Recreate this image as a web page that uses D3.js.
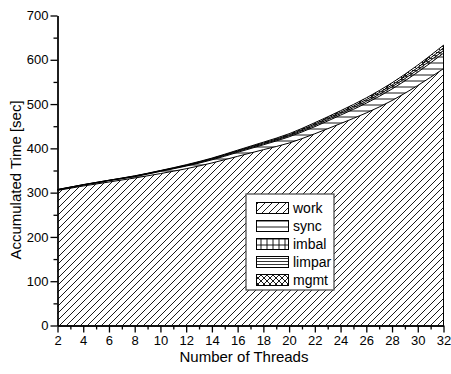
<!DOCTYPE html>
<html>
<head>
<meta charset="utf-8">
<script src="https://cdn.jsdelivr.net/npm/d3@7"></script>
<style>
  html, body { margin: 0; padding: 0; background: #fff; }
  svg { display: block; font-family: "Liberation Sans", Arial, sans-serif; }
</style>
</head>
<body>
<svg id="chart" width="451" height="374"></svg>
<script>
// Thread counts on the x axis
const threads = [2, 4, 6, 8, 10, 12, 14, 16, 18, 20, 22, 24, 26, 28, 30, 32];

// Accumulated time components [sec], stacked bottom to top
const work   = [305, 315, 324, 333, 343, 354, 367, 382, 397, 412, 433, 456, 480, 508, 542, 580];
const sync   = [1, 2, 3, 3, 5, 6, 7, 9, 11, 14, 16, 19, 22, 26, 30, 35];
const imbal  = [0.5, 0.5, 0.5, 1, 1, 1, 1.5, 2, 2, 2.5, 3, 3.5, 4, 5, 5.5, 6];
const limpar = [0.5, 0.5, 0.5, 0.5, 0.5, 1, 1.5, 1.5, 2, 2, 3, 3, 4, 4, 5, 6];
const mgmt   = [0, 0, 0, 0.5, 0.5, 1, 1, 1.5, 2, 2.5, 3, 3.5, 4, 5, 5.5, 6];

const seriesNames = ["work", "sync", "imbal", "limpar", "mgmt"];
const seriesValues = [work, sync, imbal, limpar, mgmt];

const xTicks = [2, 4, 6, 8, 10, 12, 14, 16, 18, 20, 22, 24, 26, 28, 30, 32];
const yTicks = [0, 100, 200, 300, 400, 500, 600, 700];

const svg = d3.select("#chart");
const plotL = 57.5, plotR = 443.5, plotT = 15.5, plotB = 325.5;

const x = d3.scaleLinear().domain([2, 32]).range([plotL, plotR]);
const y = d3.scaleLinear().domain([0, 700]).range([plotB, plotT]);

// Fill patterns
const defs = svg.append("defs");
function pattern(id, size, draw) {
  const p = defs.append("pattern").attr("id", id)
    .attr("patternUnits", "userSpaceOnUse")
    .attr("width", size).attr("height", size);
  p.append("rect").attr("width", size).attr("height", size).attr("fill", "#fff");
  draw(p, size);
}
const ln = (p, x1, y1, x2, y2, w) => p.append("line")
  .attr("x1", x1).attr("y1", y1).attr("x2", x2).attr("y2", y2)
  .attr("stroke", "#000").attr("stroke-width", w || 0.9);

pattern("pat-work", 7, (p, s) => {
  ln(p, 0, s, s, 0); ln(p, -1, 1, 1, -1); ln(p, s - 1, s + 1, s + 1, s - 1);
});
pattern("pat-sync", 6, (p, s) => { ln(p, 0, 3, s, 3); });
pattern("pat-imbal", 6, (p, s) => { ln(p, 0, 3, s, 3); ln(p, 3, 0, 3, s); });
pattern("pat-limpar", 3, (p, s) => { ln(p, 0, 1.5, s, 1.5, 0.8); });
pattern("pat-mgmt", 6, (p, s) => {
  ln(p, 0, s, s, 0); ln(p, 0, 0, s, s);
  ln(p, -1, 1, 1, -1); ln(p, s - 1, s + 1, s + 1, s - 1);
  ln(p, -1, s - 1, 1, s + 1); ln(p, s - 1, -1, s + 1, 1);
});

// Stack the components
const rows = threads.map((t, i) => {
  const r = { t };
  seriesNames.forEach((n, k) => r[n] = seriesValues[k][i]);
  return r;
});
const stacked = d3.stack().keys(seriesNames)(rows);

const area = d3.area()
  .x(d => x(d.data.t))
  .y0(d => y(d[0]))
  .y1(d => y(d[1]))
  .curve(d3.curveMonotoneX);
const topLine = d3.line()
  .x(d => x(d.data.t))
  .y(d => y(d[1]))
  .curve(d3.curveMonotoneX);

const g = svg.append("g");
stacked.forEach(s => {
  g.append("path").attr("d", area(s))
    .attr("fill", `url(#pat-${s.key})`).attr("stroke", "none");
});
stacked.forEach(s => {
  g.append("path").attr("d", topLine(s))
    .attr("fill", "none").attr("stroke", "#000").attr("stroke-width", 1);
});
// right edge of the stack at the last thread count
const last = stacked[stacked.length - 1];
g.append("line")
  .attr("x1", x(32)).attr("x2", x(32))
  .attr("y1", y(0)).attr("y2", y(last[last.length - 1][1]))
  .attr("stroke", "#000").attr("stroke-width", 1);

// Axes
const yAxis = d3.axisLeft(y).tickValues(yTicks).tickSize(7).tickSizeOuter(0).tickPadding(2);
const yMinor = d3.axisLeft(y).tickValues(d3.range(50, 700, 100)).tickSize(4).tickSizeOuter(0).tickFormat("");
const xAxis = d3.axisBottom(x).tickValues(xTicks).tickSize(7).tickSizeOuter(0).tickPadding(3);
const xMinor = d3.axisBottom(x).tickValues(d3.range(3, 32, 2)).tickSize(4).tickSizeOuter(0).tickFormat("");

function style(sel) {
  sel.selectAll("path").attr("stroke", "#000").attr("stroke-width", 1.3);
  sel.selectAll("line").attr("stroke", "#000").attr("stroke-width", 1.3);
  sel.selectAll("text").attr("fill", "#000").attr("font-size", 13)
    .attr("font-family", "Liberation Sans, Arial, sans-serif");
}
svg.append("g").attr("transform", `translate(${plotL},0)`).call(yMinor).call(style);
svg.append("g").attr("transform", `translate(${plotL},0)`).call(yAxis).call(style);
svg.append("g").attr("transform", `translate(0,${plotB})`).call(xMinor).call(style);
svg.append("g").attr("transform", `translate(0,${plotB})`).call(xAxis).call(style);

// Axis titles
svg.append("text")
  .attr("transform", "translate(21,180) rotate(-90)")
  .attr("text-anchor", "middle").attr("font-size", 15).attr("fill", "#000")
  .text("Accumulated Time [sec]");
svg.append("text")
  .attr("x", 244).attr("y", 362)
  .attr("text-anchor", "middle").attr("font-size", 15).attr("fill", "#000")
  .text("Number of Threads");

// Legend
const lg = svg.append("g").attr("transform", "translate(246,194)");
lg.append("rect").attr("x", 0).attr("y", 0).attr("width", 88).attr("height", 96)
  .attr("fill", "#fff").attr("stroke", "#444").attr("stroke-width", 1.2);
seriesNames.forEach((n, i) => {
  const cy = 14 + i * 18;
  lg.append("rect").attr("x", 10.5).attr("y", cy - 5.5).attr("width", 32).attr("height", 11)
    .attr("fill", `url(#pat-${n})`).attr("stroke", "#000").attr("stroke-width", 1);
  lg.append("text").attr("x", 47).attr("y", cy + 5)
    .attr("font-size", 14).attr("fill", "#000").text(n);
});
</script>
</body>
</html>
